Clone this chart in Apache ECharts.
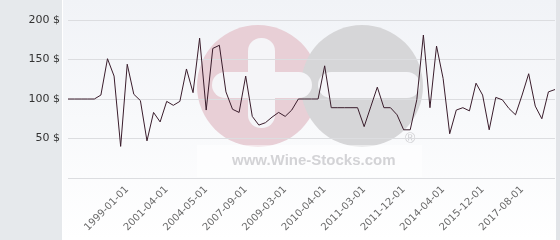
<!DOCTYPE html>
<html><head><meta charset="utf-8">
<script src="https://cdn.jsdelivr.net/npm/echarts@6/dist/echarts.min.js"></script>
<style>html,body{margin:0;padding:0;background:#fff}#c{width:560px;height:240px}</style>
</head><body><div id="c"></div>
<script>
const categories = ['1998-01-01','1998-02-01','1998-03-01','1998-04-01','1998-06-01','1998-07-01','1998-09-01','1998-10-01','1998-12-01',
'1999-01-01','1999-06-01','1999-09-01','2000-01-01','2000-06-01','2000-10-01',
'2001-04-01','2001-10-01','2002-04-01','2002-10-01','2003-04-01','2003-10-01',
'2004-05-01','2004-12-01','2005-06-01','2006-01-01','2006-06-01','2007-01-01',
'2007-09-01','2007-12-01','2008-03-01','2008-06-01','2008-09-01','2008-12-01',
'2009-03-01','2009-05-01','2009-07-01','2009-09-01','2009-11-01','2010-01-01',
'2010-04-01','2010-06-01','2010-07-01','2010-09-01','2010-11-01','2011-01-01',
'2011-03-01','2011-05-01','2011-06-01','2011-08-01','2011-09-01','2011-10-01',
'2011-12-01','2012-05-01','2012-09-01','2013-01-01','2013-06-01','2013-11-01',
'2014-04-01','2014-07-01','2014-10-01','2015-01-01','2015-04-01','2015-08-01',
'2015-12-01','2016-03-01','2016-06-01','2016-09-01','2016-12-01','2017-04-01',
'2017-08-01','2017-12-01','2018-03-01','2018-06-01','2018-09-01','2018-12-01'];
const prices = [100,100,100,100,100,105,151,129,40,
144,106,98,47,83,71,
97,92,97,138,108,177,
86,164,168,109,87,83,
129,78,67,70,77,83,
78,86,100,100,100,100,
142,89,89,89,89,89,
65,90,115,89,89,80,
61,61,99,181,89,167,
126,56,86,89,85,120,
105,61,102,99,88,80,
105,132,91,75,109,112];
const tickLabels = ['1999-01-01','2001-04-01','2004-05-01','2007-09-01','2009-03-01','2010-04-01','2011-03-01','2011-12-01','2014-04-01','2015-12-01','2017-08-01'];
const yTicks = [0,50,100,150,200];

const chart = echarts.init(document.getElementById('c'), null, {renderer:'canvas'});
chart.setOption({
  animation:false,
  backgroundColor:'#ffffff',
  graphic:[
    {type:'rect', z:-10, shape:{x:0,y:0,width:62,height:240}, style:{fill:'#e6e9ec'}},
    {type:'rect', z:-10, shape:{x:63,y:0,width:493,height:240}, style:{fill:new echarts.graphic.LinearGradient(0,0,0,1,[{offset:0,color:'#f1f3f7'},{offset:1,color:'#ffffff'}])}},
    {type:'rect', z:-10, shape:{x:556,y:0,width:4,height:240}, style:{fill:'#e2e4e8'}},
    {type:'circle', z:-9, shape:{cx:258,cy:86,r:61}, style:{fill:'#e8cfd6'}},
    {type:'circle', z:-9, shape:{cx:362,cy:86,r:61}, style:{fill:'#d6d6d8'}},
    {type:'rect', z:-8, shape:{x:248,y:38,width:27,height:90,r:13}, style:{fill:'#f5f5f8'}},
    {type:'rect', z:-8, shape:{x:212,y:72,width:100,height:26,r:13}, style:{fill:'#f5f5f8'}},
    {type:'rect', z:-8, shape:{x:318,y:72,width:102,height:26,r:13}, style:{fill:'#f5f5f8'}},
    {type:'rect', z:-8, shape:{x:197,y:145,width:225,height:32}, style:{fill:'rgba(255,255,255,0.5)'}},
    {type:'text', z:-7, left:232, top:153, style:{text:'www.Wine-Stocks.com', font:'bold 15px "Liberation Sans", Arial, sans-serif', fill:'#d3d3d6'}},
    {type:'text', z:-7, left:405, top:132, style:{text:'®', font:'14px "Liberation Sans", Arial, sans-serif', fill:'#cfcfd2'}}
  ],
  grid:{left:68,right:5,top:20,bottom:62,containLabel:false},
  xAxis:{
    type:'category', data:categories, boundaryGap:false,
    axisLine:{show:false}, axisTick:{show:false},
    axisLabel:{rotate:45, margin:10, fontSize:10, color:'#6a6a6a', fontFamily:'DejaVu Sans',
      interval:(i,v)=>tickLabels.includes(v)},
    splitLine:{show:false}
  },
  yAxis:{
    type:'value', min:yTicks[0], max:yTicks[yTicks.length-1], interval:50,
    axisLine:{show:false}, axisTick:{show:false},
    axisLabel:{margin:8, fontSize:11, color:'#333', fontFamily:'DejaVu Sans',
      formatter:v=>v===0?'':v+' $'},
    splitLine:{lineStyle:{color:'#dcdde0',width:1}}
  },
  series:[{
    type:'line', data:prices, showSymbol:false, symbol:'none',
    lineStyle:{color:'#3a1d2c', width:1}
  }]
});
</script></body></html>
